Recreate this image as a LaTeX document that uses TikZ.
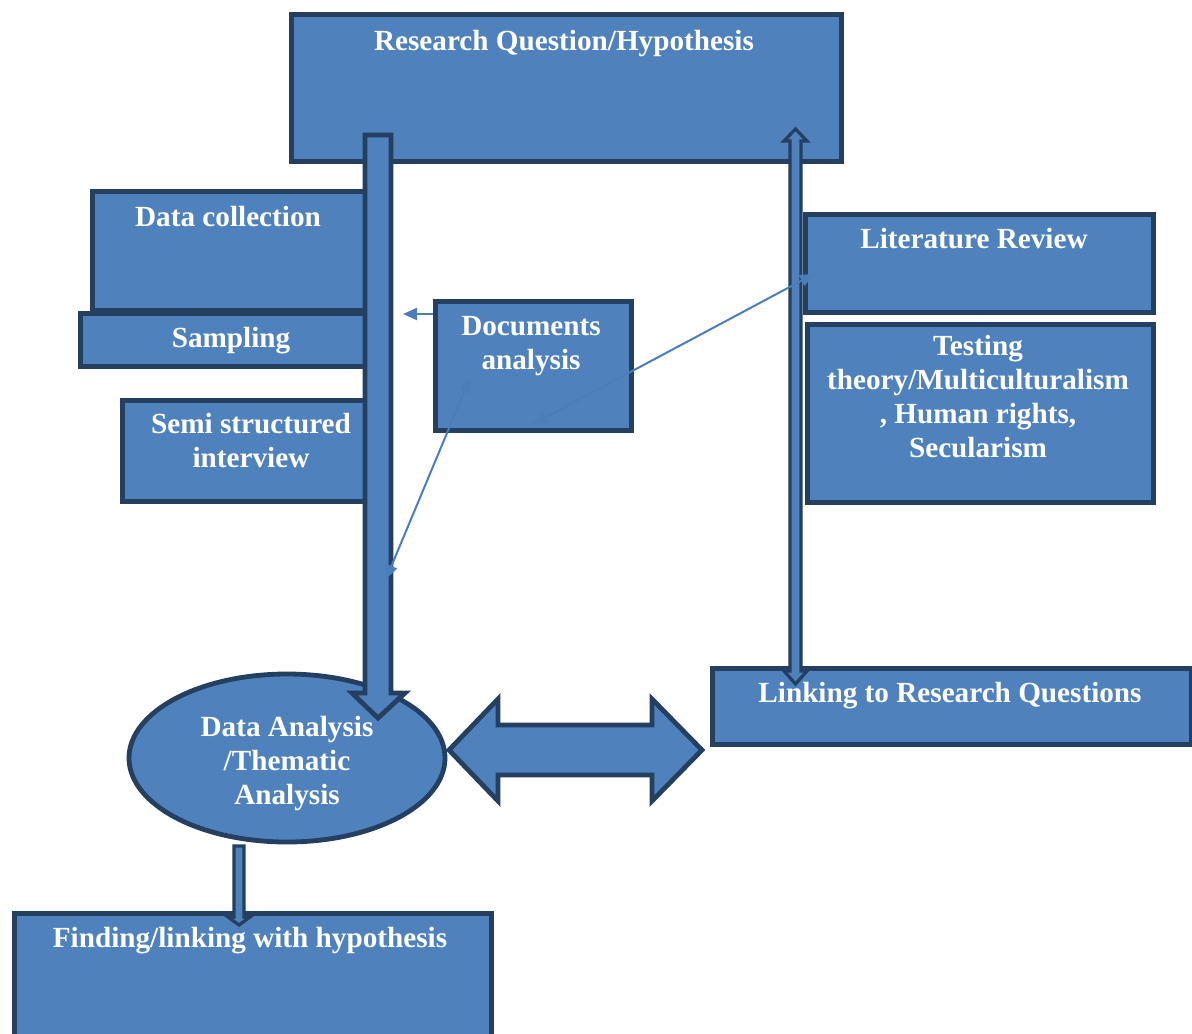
\documentclass[tikz,border=0pt]{standalone}
\usepackage{fontspec}
\setmainfont{Liberation Serif}
\usetikzlibrary{shapes.geometric,arrows.meta}
\definecolor{boxfill}{HTML}{4F81BD}
\definecolor{boxline}{HTML}{243F60}
\definecolor{thinblue}{HTML}{4A7EBB}
\begin{document}
\begin{tikzpicture}[x=0.5pt,y=-0.5pt,
  box/.style={draw=boxline,fill=boxfill,line width=2.3pt,inner sep=0pt,anchor=north west},
  lbl/.style={text=white,font=\fontsize{14.6}{17}\selectfont\bfseries,inner sep=0pt,anchor=base,align=center},
  blk/.style={draw=boxline,fill=boxfill,line width=2.4pt,line join=miter},
  slim/.style={draw=boxline,fill=boxfill,line width=1.6pt,line join=miter},
  thinboth/.style={draw=thinblue,line width=1pt,{Triangle[length=7pt,width=6pt]}-{Triangle[length=7pt,width=6pt]}},
  thinone/.style={draw=thinblue,line width=1pt,-{Triangle[length=7pt,width=6pt]}}]
\useasboundingbox (0,0) rectangle (1192,1033);

% boxes
\node[box,minimum width=275pt,minimum height=73.5pt] (rq) at (289,12) {};
\node[box,minimum width=141pt,minimum height=59.5pt] (dc) at (90,189) {};
\node[box,minimum width=146pt,minimum height=26.5pt] (samp) at (78,311) {};
\node[box,minimum width=126pt,minimum height=50.5pt] (semi) at (120,398) {};
\node[box,minimum width=98pt,minimum height=64.5pt] (doc) at (433,299) {};
\node[box,minimum width=174pt,minimum height=49pt] (lit) at (803,212) {};
\node[box,minimum width=173pt,minimum height=89pt] (test) at (805,322) {};
\node[box,minimum width=239.5pt,minimum height=38pt] (link) at (710,666) {};
\node[box,minimum width=238.5pt,minimum height=70pt] (find) at (12,911) {};
\node[ellipse,draw=boxline,fill=boxfill,line width=2.4pt,inner sep=0pt,minimum width=158pt,minimum height=84pt] (ell) at (287,758) {};

% big down arrow from research question to data analysis
\draw[blk] (365,135) -- (391,135) -- (391,693) -- (405,693) -- (378,718) -- (352,693) -- (365,693) -- cycle;

% slim double arrow from research question to linking
\draw[slim] (795.5,129) -- (807,141) -- (801,141) -- (801,671) -- (807,671) -- (795.5,684) -- (784,671) -- (790,671) -- (790,141) -- (784,141) -- cycle;

% big horizontal double arrow
\draw[blk] (449,750) -- (498,699) -- (498,725) -- (652,725) -- (652,699) -- (702,750) -- (652,801) -- (652,775) -- (498,775) -- (498,801) -- cycle;

% small down arrow from ellipse to finding
\draw[slim] (234,846) -- (244,846) -- (244,917) -- (250,917) -- (239,925) -- (228,917) -- (234,917) -- cycle;

% thin connectors
\coordinate (dl) at (403,314);
\coordinate (da) at (470,378);
\coordinate (va) at (386,579);
\coordinate (db) at (533,424);
\coordinate (la) at (814,274);
\draw[thinone] (doc.west |- dl) -- (dl);
\draw[thinboth] (va) -- (da);
\draw[thinboth] (db) -- (la);

% labels (multi-line labels are anchored at the baseline of their last line)
\node[lbl] (trq) at (564,50) {Research Question/Hypothesis};
\node[lbl] (tdc) at (228,226) {Data collection};
\node[lbl] (tsamp) at (231,347) {Sampling};
\node[lbl] (tsemi) at (251,467) {Semi structured\\interview};
\node[lbl] (tdoc) at (531,369) {Documents\\analysis};
\node[lbl] (tlit) at (974,248) {Literature Review};
\node[lbl] (ttest) at (978,457) {Testing\\theory/Multiculturalism\\, Human rights,\\Secularism};
\node[lbl] (tlink) at (950,702) {Linking to Research Questions};
\node[lbl] (tell) at (287,804) {Data Analysis\\/Thematic\\Analysis};
\node[lbl] (tfind) at (250,947) {Finding/linking with hypothesis};
\end{tikzpicture}
\end{document}
